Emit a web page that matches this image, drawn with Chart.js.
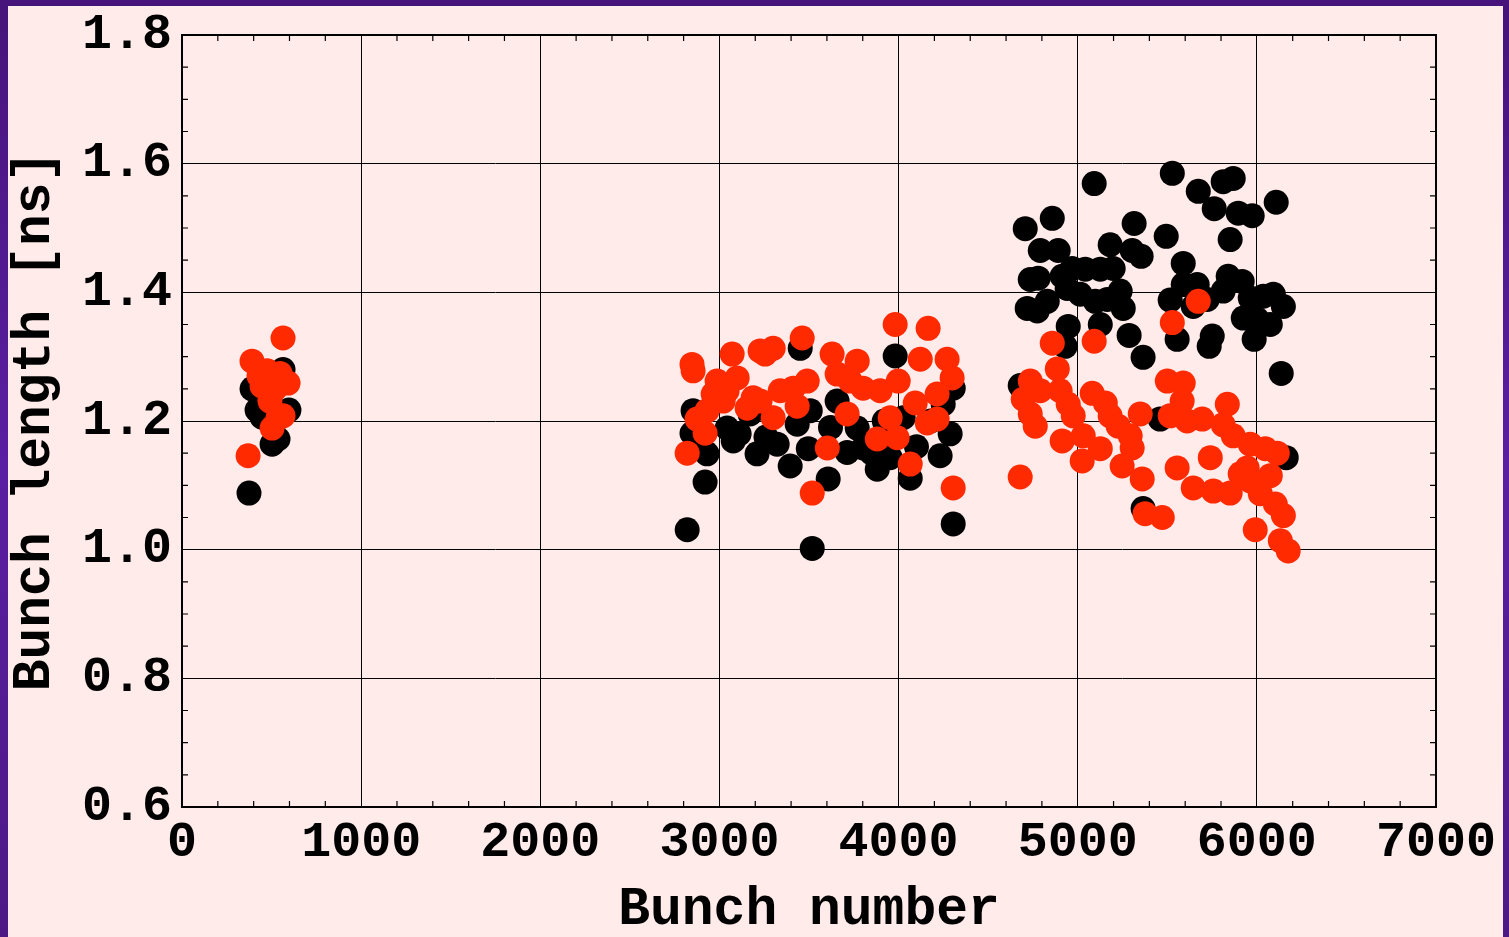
<!DOCTYPE html>
<html>
<head>
<meta charset="utf-8">
<script src="https://cdn.jsdelivr.net/npm/chart.js@4.4.1/dist/chart.umd.min.js"></script>
<style>
  html, body { margin: 0; padding: 0; width: 1509px; height: 937px; overflow: hidden;
    background: linear-gradient(180deg, #46147a 0%, #5a1ea2 50%, #4c1984 100%); }
  #panel { position: absolute; left: 8px; top: 6px; width: 1495px; height: 931px; background: #ffebea; }
  #c { position: absolute; left: 0; top: 0; }
</style>
</head>
<body>
<div id="panel"></div>
<canvas id="c" width="1509" height="937"></canvas>
<script>
// ---- data ----
const blackX = [374, 391, 419, 447, 503, 536, 564, 597,
  2820, 2920, 2853, 2847, 2931, 2880, 3518, 3607, 3451, 3981, 4305, 4232, 4288, 4305, 4249, 3881, 4065,
  3395, 3496, 3713, 3210, 3077, 3322, 3043, 3171, 3434, 3507, 3657, 3769, 3953, 4026, 3802,
  3110, 3260, 3620, 3850, 3920, 4100, 4180,
  4679, 4707, 4858, 4791, 4891, 4735, 4779, 4913, 4969, 5042, 5126, 5198, 4941, 5014, 5098, 5165, 5237,
  5254, 4718, 4774, 4830, 4947, 4930, 5126, 5287, 5365, 5092, 5181, 5304, 5354, 5315, 5494, 5528, 5589,
  5673, 5812, 5868, 5762, 5896, 5974, 6108, 5851, 5516, 5589, 5667, 5723, 5812, 5840, 5918, 5645, 5555,
  5751, 5734, 5963, 6036, 6092, 6148, 5924, 6002, 6075, 5985, 6136, 6164, 5365, 5460];
const blackY = [1.088, 1.250, 1.217, 1.206, 1.164, 1.172, 1.280, 1.217,
  1.031, 1.105, 1.216, 1.181, 1.149, 1.160, 1.002, 1.110, 1.313, 1.301, 1.040, 1.146, 1.180, 1.251, 1.226, 1.125, 1.111,
  1.130, 1.157, 1.151, 1.149, 1.169, 1.164, 1.189, 1.211, 1.195, 1.216, 1.231, 1.189, 1.143, 1.205, 1.158,
  1.180, 1.175, 1.190, 1.150, 1.200, 1.160, 1.200,
  1.255, 1.499, 1.515, 1.465, 1.465, 1.420, 1.422, 1.425, 1.437, 1.436, 1.436, 1.437, 1.406, 1.397, 1.386, 1.389, 1.402,
  1.375, 1.375, 1.371, 1.386, 1.347, 1.316, 1.350, 1.333, 1.299, 1.569, 1.474, 1.465, 1.456, 1.507, 1.487, 1.585, 1.445,
  1.557, 1.572, 1.577, 1.530, 1.523, 1.519, 1.540, 1.482, 1.388, 1.412, 1.412, 1.389, 1.402, 1.425, 1.417, 1.378, 1.327,
  1.332, 1.316, 1.391, 1.394, 1.397, 1.378, 1.360, 1.358, 1.350, 1.327, 1.274, 1.143, 1.064, 1.203];

const redX = [564, 391, 475, 547, 592, 447, 491, 536, 503, 369, 564, 430, 520,
  2847, 2853, 3071, 3227, 3300, 3255, 3462, 3629, 3769, 3981, 4165, 4121, 4271, 4299, 4215, 4093, 4215, 4160,
  4305, 4065, 3992, 3881, 3953, 3998, 3897, 3802, 3713, 3657, 3730, 3602, 3518, 3490, 3412, 3339, 3300, 3434,
  3188, 3155, 3099, 2987, 2965, 2931, 2875, 2920, 2820, 3043, 3021, 3227,
  4679, 4858, 5092, 5528, 5673, 4735, 4886, 4696, 4791, 4735, 4763, 4902, 4947, 4975, 4913, 5031, 5025, 5126,
  5081, 5154, 5181, 5226, 5293, 5304, 5248, 5360, 5349, 5376, 5472, 5500, 5589, 5583, 5516, 5611, 5695, 5835,
  5812, 5868, 5963, 6047, 6114, 5555, 5645, 5740, 5757, 5851, 5907, 5946, 6075, 6019, 6103, 6148, 5991, 6131,
  6175, 5963];
const redY = [1.329, 1.293, 1.278, 1.274, 1.259, 1.254, 1.231, 1.205, 1.189, 1.146, 1.208, 1.270, 1.250,
  1.288, 1.278, 1.304, 1.309, 1.313, 1.304, 1.329, 1.304, 1.293, 1.350, 1.344, 1.296, 1.296, 1.267, 1.242, 1.228, 1.203, 1.197,
  1.096, 1.133, 1.174, 1.172, 1.205, 1.262, 1.247, 1.251, 1.211, 1.273, 1.262, 1.158, 1.088, 1.262, 1.251, 1.247, 1.205, 1.223,
  1.236, 1.220, 1.267, 1.262, 1.242, 1.216, 1.203, 1.181, 1.150, 1.247, 1.231, 1.231,
  1.113, 1.321, 1.324, 1.353, 1.386, 1.262, 1.281, 1.234, 1.247, 1.211, 1.192, 1.247, 1.226, 1.208, 1.169, 1.177, 1.138, 1.157,
  1.243, 1.228, 1.208, 1.192, 1.177, 1.158, 1.130, 1.110, 1.211, 1.056, 1.050, 1.262, 1.259, 1.231, 1.208, 1.200, 1.203, 1.226,
  1.194, 1.177, 1.164, 1.157, 1.150, 1.127, 1.096, 1.143, 1.091, 1.088, 1.118, 1.127, 1.115, 1.087, 1.071, 1.053, 1.031, 1.014,
  0.998, 1.107];

const xTicks = [0, 1000, 2000, 3000, 4000, 5000, 6000, 7000];
const yTicks = ['0.6', '0.8', '1.0', '1.2', '1.4', '1.6', '1.8'];
const xTitle = 'Bunch number';
const yTitle = 'Bunch length [ns]';

const pts = (xs, ys) => xs.map((x, i) => ({ x: x, y: ys[i] }));
const FONT = '"Courier New", "Liberation Mono", monospace';

const framePlugin = {
  id: 'frame',
  beforeDatasetsDraw(chart) {
    const { ctx, chartArea: a, scales: { x, y } } = chart;
    ctx.save();
    ctx.strokeStyle = '#000';
    ctx.lineWidth = 1.2;
    ctx.beginPath();
    for (let v = 0; v <= 7000; v += 200) {
      if (v % 1000 === 0) continue;
      const px = x.getPixelForValue(v);
      ctx.moveTo(px, a.bottom); ctx.lineTo(px, a.bottom - 6);
      ctx.moveTo(px, a.top); ctx.lineTo(px, a.top + 6);
    }
    for (let k = 0; k <= 24; k++) {
      if (k % 4 === 0) continue;
      const py = y.getPixelForValue(0.6 + k * 0.05);
      ctx.moveTo(a.left, py); ctx.lineTo(a.left + 6, py);
      ctx.moveTo(a.right, py); ctx.lineTo(a.right - 6, py);
    }
    ctx.stroke();
    ctx.lineWidth = 2;
    ctx.strokeRect(a.left, a.top, a.right - a.left, a.bottom - a.top);
    ctx.restore();
  }
};

new Chart(document.getElementById('c'), {
  type: 'scatter',
  data: {
    datasets: [
      { label: 'red', data: pts(redX, redY), backgroundColor: '#ff2a00', borderWidth: 0, pointRadius: 12.5, order: 0 },
      { label: 'black', data: pts(blackX, blackY), backgroundColor: '#000000', borderWidth: 0, pointRadius: 12.5, order: 1 }
    ]
  },
  options: {
    responsive: false,
    animation: false,
    events: [],
    layout: { padding: { top: 33, right: 73, left: 0, bottom: 0 } },
    plugins: { legend: { display: false }, tooltip: { enabled: false } },
    scales: {
      x: {
        type: 'linear', min: 0, max: 7000,
        afterFit: s => { s.height = 130; },
        afterBuildTicks: s => { s.ticks = xTicks.map(v => ({ value: v })); },
        ticks: { color: '#000', padding: 6, maxRotation: 0, autoSkip: false,
          font: { family: FONT, weight: 'bold', size: 50 }, callback: v => String(v) },
        grid: { color: '#000', lineWidth: 1, drawTicks: false },
        border: { display: false },
        title: { display: true, text: xTitle, color: '#000', padding: 0,
          font: { family: FONT, weight: 'bold', size: 53, lineHeight: 1 } }
      },
      y: {
        type: 'linear', min: 0.6, max: 1.8,
        afterFit: s => { s.width = 182; },
        afterBuildTicks: s => { s.ticks = yTicks.map(v => ({ value: parseFloat(v) })); },
        ticks: { color: '#000', padding: 10, autoSkip: false,
          font: { family: FONT, weight: 'bold', size: 50, lineHeight: 1 },
          callback: v => yTicks.find(t => Math.abs(parseFloat(t) - v) < 1e-6) },
        grid: { color: '#000', lineWidth: 1, drawTicks: false },
        border: { display: false },
        title: { display: true, text: yTitle, color: '#000', padding: { top: 9, bottom: 0 },
          font: { family: FONT, weight: 'bold', size: 53, lineHeight: 1 } }
      }
    }
  },
  plugins: [framePlugin]
});
</script>
</body>
</html>
